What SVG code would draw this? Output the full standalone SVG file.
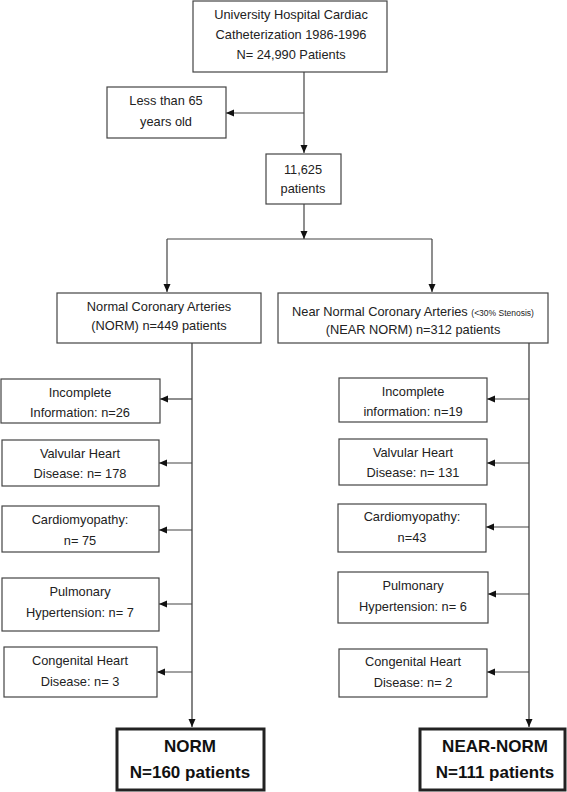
<svg xmlns="http://www.w3.org/2000/svg" width="567" height="792" viewBox="0 0 567 792">
<style>
.box{fill:#fff;stroke:#444;stroke-width:1.2}
.bbox{fill:#fff;stroke:#222;stroke-width:3}
.t{font-family:"Liberation Sans",Arial,sans-serif;font-size:12.8px;fill:#222;text-anchor:middle}
.s{font-size:8.5px}
.b{font-family:"Liberation Sans",Arial,sans-serif;font-size:17px;font-weight:bold;fill:#111;text-anchor:middle}
.ln{fill:none;stroke:#444;stroke-width:1.2}
.lm{fill:none;stroke:#666;stroke-width:1.6}
</style>
<defs>
<marker id="ah" markerUnits="userSpaceOnUse" markerWidth="8" markerHeight="8" viewBox="0 0 8 8" refX="8" refY="4" orient="auto">
<path d="M0,0.5 L8,4 L0,7.5 Z" fill="#111"/>
</marker>
</defs>
<g id="connectors">
<line class="ln" x1="304" y1="72" x2="304" y2="153" marker-end="url(#ah)"/>
<line class="ln" x1="304" y1="113" x2="226" y2="113" marker-end="url(#ah)"/>
<line class="ln" x1="304" y1="204" x2="304" y2="239" marker-end="url(#ah)"/>
<line class="ln" x1="167" y1="239" x2="432" y2="239"/>
<line class="ln" x1="167" y1="239" x2="167" y2="292" marker-end="url(#ah)"/>
<line class="ln" x1="432" y1="239" x2="432" y2="292" marker-end="url(#ah)"/>
<line class="lm" x1="192" y1="343" x2="192" y2="727" marker-end="url(#ah)"/>
<line class="lm" x1="529" y1="343" x2="529" y2="727" marker-end="url(#ah)"/>
<line class="ln" x1="192" y1="399" x2="160" y2="399" marker-end="url(#ah)"/>
<line class="ln" x1="192" y1="463" x2="159" y2="463" marker-end="url(#ah)"/>
<line class="ln" x1="192" y1="530" x2="159" y2="530" marker-end="url(#ah)"/>
<line class="ln" x1="192" y1="604" x2="159" y2="604" marker-end="url(#ah)"/>
<line class="ln" x1="192" y1="672" x2="157" y2="672" marker-end="url(#ah)"/>
<line class="ln" x1="529" y1="399" x2="487" y2="399" marker-end="url(#ah)"/>
<line class="ln" x1="529" y1="463" x2="487" y2="463" marker-end="url(#ah)"/>
<line class="ln" x1="529" y1="527" x2="486" y2="527" marker-end="url(#ah)"/>
<line class="ln" x1="529" y1="594" x2="488" y2="594" marker-end="url(#ah)"/>
<line class="ln" x1="529" y1="672" x2="487" y2="672" marker-end="url(#ah)"/>
</g>
<g id="top">
<rect class="box" x="193" y="1" width="194" height="71"/>
<text class="t" x="291" y="19">University Hospital Cardiac</text>
<text class="t" x="291" y="39">Catheterization 1986-1996</text>
<text class="t" x="291" y="59">N= 24,990 Patients</text>
</g>
<g id="under65">
<rect class="box" x="107" y="87" width="119" height="51"/>
<text class="t" x="166" y="105">Less than 65</text>
<text class="t" x="166" y="126">years old</text>
</g>
<g id="n11625">
<rect class="box" x="266" y="154" width="75" height="50"/>
<text class="t" x="303" y="174">11,625</text>
<text class="t" x="303" y="193">patients</text>
</g>
<g id="normal">
<rect class="box" x="57" y="293" width="204" height="50"/>
<text class="t" x="159" y="311">Normal Coronary Arteries</text>
<text class="t" x="159" y="330">(NORM) n=449 patients</text>
</g>
<g id="nearnormal">
<rect class="box" x="278" y="293" width="270" height="50"/>
<text class="t" x="413" y="316">Near Normal Coronary Arteries <tspan class="s">(&lt;30% Stenosis)</tspan></text>
<text class="t" x="413" y="334">(NEAR NORM) n=312 patients</text>
</g>
<g id="l-incomplete">
<rect class="box" x="1" y="379" width="159" height="44"/>
<text class="t" x="80" y="397">Incomplete</text>
<text class="t" x="80" y="417">Information: n=26</text>
</g>
<g id="l-valvular">
<rect class="box" x="2" y="440" width="157" height="46"/>
<text class="t" x="80" y="458">Valvular Heart</text>
<text class="t" x="80" y="478">Disease: n= 178</text>
</g>
<g id="l-cardio">
<rect class="box" x="2" y="506" width="157" height="46"/>
<text class="t" x="80" y="524">Cardiomyopathy:</text>
<text class="t" x="80" y="545">n= 75</text>
</g>
<g id="l-pulm">
<rect class="box" x="2" y="578" width="157" height="53"/>
<text class="t" x="80" y="596">Pulmonary</text>
<text class="t" x="80" y="617">Hypertension: n= 7</text>
</g>
<g id="l-congenital">
<rect class="box" x="4" y="647" width="153" height="50"/>
<text class="t" x="80" y="665">Congenital Heart</text>
<text class="t" x="80" y="686">Disease: n= 3</text>
</g>
<g id="r-incomplete">
<rect class="box" x="339" y="378" width="148" height="44"/>
<text class="t" x="413" y="396">Incomplete</text>
<text class="t" x="413" y="416">information: n=19</text>
</g>
<g id="r-valvular">
<rect class="box" x="339" y="439" width="148" height="46"/>
<text class="t" x="413" y="457">Valvular Heart</text>
<text class="t" x="413" y="477">Disease: n= 131</text>
</g>
<g id="r-cardio">
<rect class="box" x="338" y="504" width="148" height="48"/>
<text class="t" x="412" y="521">Cardiomyopathy:</text>
<text class="t" x="412" y="542">n=43</text>
</g>
<g id="r-pulm">
<rect class="box" x="338" y="572" width="150" height="51"/>
<text class="t" x="413" y="590">Pulmonary</text>
<text class="t" x="413" y="611">Hypertension: n= 6</text>
</g>
<g id="r-congenital">
<rect class="box" x="339" y="649" width="148" height="48"/>
<text class="t" x="413" y="666">Congenital Heart</text>
<text class="t" x="413" y="687">Disease: n= 2</text>
</g>
<g id="norm">
<rect class="bbox" x="117" y="729" width="147" height="61"/>
<text class="b" x="190" y="752">NORM</text>
<text class="b" x="190" y="778">N=160 patients</text>
</g>
<g id="nearnorm">
<rect class="bbox" x="420" y="729" width="145" height="61"/>
<text class="b" x="495" y="752">NEAR-NORM</text>
<text class="b" x="495" y="778">N=111 patients</text>
</g>
</svg>
